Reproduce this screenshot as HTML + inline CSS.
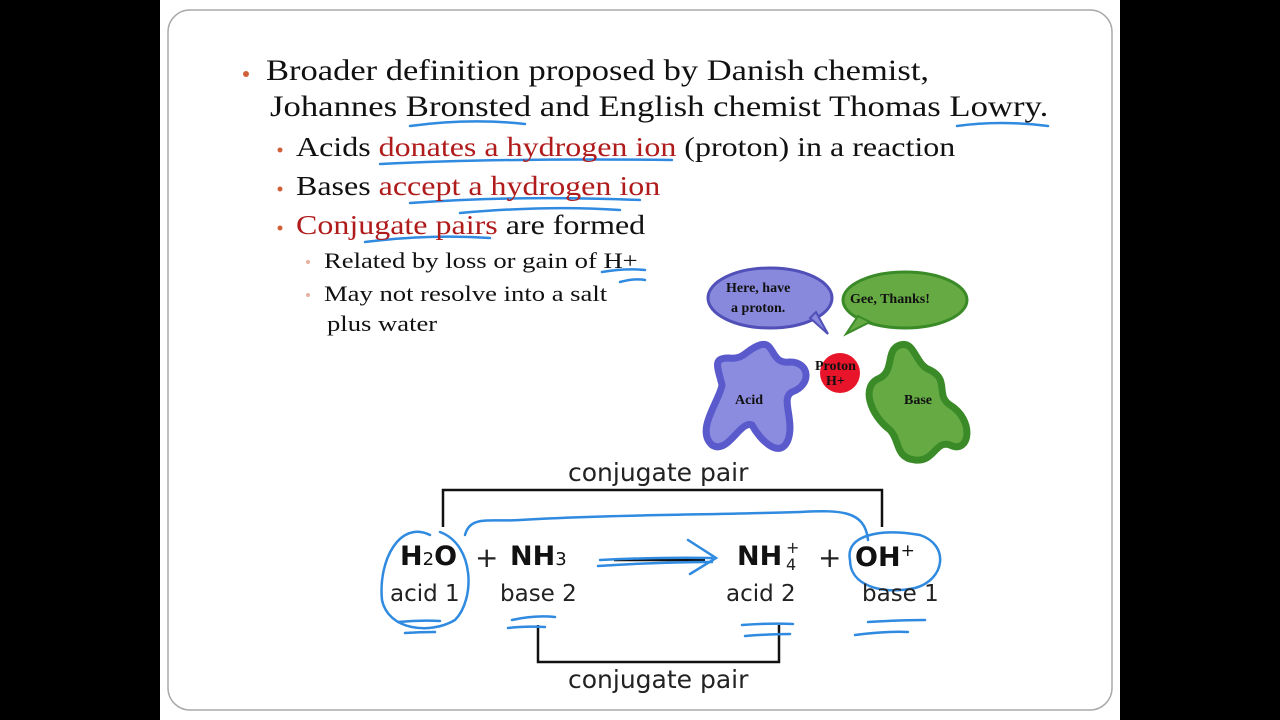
<!DOCTYPE html>
<html><head><meta charset="utf-8"><style>
body{margin:0;width:1280px;height:720px;background:#000;position:relative;overflow:hidden}
#s{position:absolute;left:160px;top:0;width:960px;height:720px;background:#fff}
.t{position:absolute;white-space:nowrap;font-family:"Liberation Serif",serif;color:#111;transform-origin:0 0}
.r{color:#b01c1c}
.d{position:absolute;white-space:nowrap;font-family:"DejaVu Sans",sans-serif;color:#222}
.b{font-weight:bold;color:#111}
</style></head><body>
<div id="s"></div>
<svg width="1280" height="720" style="position:absolute;left:0;top:0">
<rect x="168" y="10" width="944" height="700" rx="22" fill="none" stroke="#aaa" stroke-width="1.5"/>
<circle cx="246" cy="74" r="3" fill="#d0603a"/>
<circle cx="280" cy="150" r="2.5" fill="#d0603a"/>
<circle cx="280" cy="189" r="2.5" fill="#d0603a"/>
<circle cx="280" cy="228" r="2.5" fill="#d0603a"/>
<circle cx="308" cy="262" r="2" fill="#e8b0a0"/>
<circle cx="308" cy="295" r="2" fill="#e8b0a0"/>
<ellipse cx="770" cy="298" rx="62" ry="30" fill="#8888dd" stroke="#5050b8" stroke-width="3"/>
<path d="M810 318 L828 334 L816 312Z" fill="#8888dd" stroke="#5050b8" stroke-width="2"/>
<ellipse cx="905" cy="300" rx="62" ry="28" fill="#66aa44" stroke="#3a8a28" stroke-width="3"/>
<path d="M858 316 L846 334 L870 322Z" fill="#66aa44" stroke="#3a8a28" stroke-width="2"/>
<path d="M760 345 C775 340 770 365 790 362 C810 362 812 385 792 392 C780 398 795 420 788 440 C780 460 760 440 752 425 C740 420 728 455 712 445 C695 430 720 400 722 385 C718 368 712 358 728 358 C745 360 745 350 760 345Z" fill="#8b8be0" stroke="#5a5acc" stroke-width="7"/>
<path d="M900 345 C915 340 915 365 930 370 C950 380 935 395 950 405 C975 420 970 455 950 445 C935 440 935 462 915 460 C895 458 900 440 890 430 C870 415 860 385 880 378 C895 370 885 350 900 345Z" fill="#66aa44" stroke="#3a8a28" stroke-width="7"/>
<circle cx="840" cy="373" r="20" fill="#e8152a"/>
<polyline points="443,527 443,490 882,490 882,527" fill="none" stroke="#111" stroke-width="2.5"/>
<polyline points="538,625 538,662 779,662 779,625" fill="none" stroke="#111" stroke-width="2.5"/>
<line x1="614" y1="560" x2="705" y2="560" stroke="#111" stroke-width="2.5"/>
<g fill="none" stroke="#2f8ae0" stroke-width="2.5" stroke-linecap="round">
<path d="M410 126 Q470 118 525 124"/>
<path d="M957 126 Q1000 120 1048 126"/>
<path d="M380 164 Q500 158 672 160"/>
<path d="M410 203 Q520 195 640 200"/>
<path d="M460 213 Q550 205 620 210"/>
<path d="M365 242 Q430 234 490 238"/>
<path d="M602 272 Q625 268 645 270"/>
<path d="M620 282 Q635 278 645 280"/>
<path d="M430 535 C400 520 378 560 382 600 C388 630 430 635 455 620 C475 600 475 545 440 532"/>
<path d="M398 622 Q420 620 440 621"/><path d="M405 633 Q420 632 435 632"/>
<path d="M465 535 C470 515 490 522 520 520 C600 515 700 515 800 512 C840 510 865 510 868 540"/>
<path d="M850 560 C845 535 880 528 920 535 C950 545 945 580 915 588 C880 595 850 585 850 560"/>
<path d="M512 620 Q535 615 555 617"/><path d="M508 628 Q525 626 545 627"/>
<path d="M742 625 Q770 623 793 624"/><path d="M745 636 Q770 634 790 634"/>
<path d="M868 622 Q900 620 925 620"/><path d="M855 635 Q885 631 908 632"/>
<path d="M598 566 Q660 562 712 562"/><path d="M600 560 Q660 557 712 558"/>
<path d="M688 540 L716 558 L690 574"/>
</g>
</svg>
<div class="t" style="left:266px;top:54px;font-size:30px;transform:scaleX(1.15)">Broader definition proposed by Danish chemist,</div>
<div class="t" style="left:270px;top:90px;font-size:30px;transform:scaleX(1.156)">Johannes Bronsted and English chemist Thomas Lowry.</div>
<div class="t" style="left:296px;top:132px;font-size:27px;transform:scaleX(1.185)">Acids <span class="r">donates a hydrogen ion</span> (proton) in a reaction</div>
<div class="t" style="left:296px;top:171px;font-size:27px;transform:scaleX(1.185)">Bases <span class="r">accept a hydrogen ion</span></div>
<div class="t" style="left:296px;top:210px;font-size:27px;transform:scaleX(1.185)"><span class="r">Conjugate pairs</span> are formed</div>
<div class="t" style="left:324px;top:248px;font-size:22px;transform:scaleX(1.21)">Related by loss or gain of H+</div>
<div class="t" style="left:324px;top:281px;font-size:22px;transform:scaleX(1.21)">May not resolve into a salt</div>
<div class="t" style="left:327px;top:311px;font-size:22px;transform:scaleX(1.21)">plus water</div>
<div class="t" style="left:726px;top:279px;font-size:14px;font-weight:bold;text-align:center;line-height:20px">Here, have<br>a proton.</div>
<div class="t" style="left:850px;top:292px;font-size:14px;font-weight:bold">Gee, Thanks!</div>
<div class="t" style="left:815px;top:359px;font-size:14px;font-weight:bold;line-height:15px;text-align:center">Proton<br>H+</div>
<div class="t" style="left:735px;top:393px;font-size:14px;font-weight:bold">Acid</div>
<div class="t" style="left:904px;top:393px;font-size:14px;font-weight:bold">Base</div>
<div class="d" style="left:568px;top:458px;font-size:25px">conjugate pair</div>
<div class="d" style="left:568px;top:665px;font-size:25px">conjugate pair</div>
<div class="d b" style="left:400px;top:541px;font-size:27px">H<span style="font-size:18px;font-weight:normal">2</span>O</div>
<div class="d" style="left:475px;top:541px;font-size:28px">+</div>
<div class="d b" style="left:510px;top:541px;font-size:27px">NH<span style="font-size:18px;font-weight:normal">3</span></div>
<div class="d b" style="left:737px;top:541px;font-size:27px">NH</div>
<div class="d" style="left:786px;top:539px;font-size:16px;line-height:17px">+<br>4</div>
<div class="d" style="left:818px;top:541px;font-size:28px">+</div>
<div class="d b" style="left:855px;top:541px;font-size:27px">OH<span style="font-size:17px;font-weight:normal;vertical-align:10px">+</span></div>
<div class="d" style="left:390px;top:581px;font-size:23px">acid 1</div>
<div class="d" style="left:500px;top:581px;font-size:23px">base 2</div>
<div class="d" style="left:726px;top:581px;font-size:23px">acid 2</div>
<div class="d" style="left:862px;top:581px;font-size:23px">base 1</div>
</body></html>
